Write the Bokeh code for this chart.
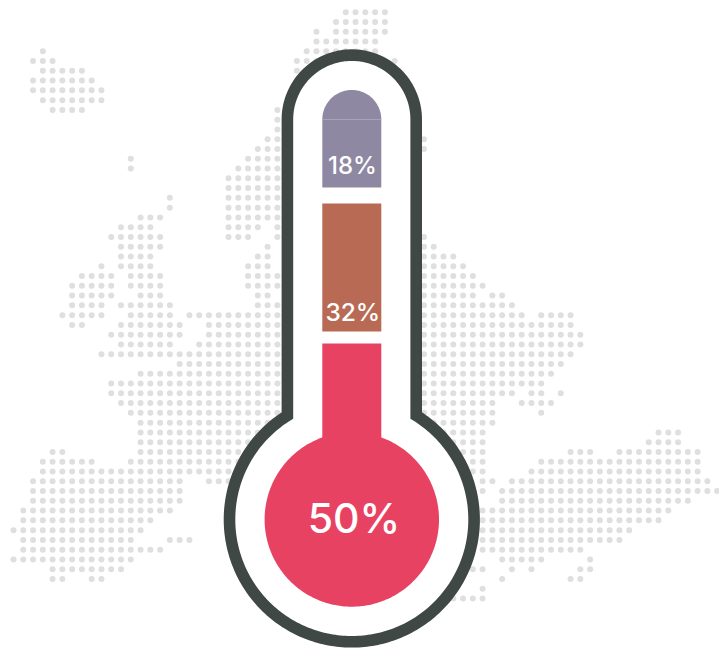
from bokeh.core.properties import value
from bokeh.embed import file_html
from bokeh.models import Range1d
from bokeh.plotting import figure
from bokeh.resources import INLINE
import numpy as np

# Poll shares from the bottom of the thermometer to the top
shares = [50, 32, 18]
share_colors = ["#e84262", "#b96a55", "#8f88a2"]

# Dot map: row number -> inclusive column spans on the dot lattice
map_rows = {
    0: [(34, 38)], 1: [(33, 38)], 2: [(31, 31), (33, 38)], 3: [(31, 37)], 4: [(3, 3), (30, 37)],
    5: [(2, 4), (29, 39)], 6: [(3, 7), (29, 30)], 7: [(2, 8)], 8: [(2, 9)], 9: [(3, 9)],
    10: [(4, 7), (27, 27)], 11: [(27, 27)], 12: [(27, 27)], 13: [(26, 27), (42, 42)],
    14: [(25, 27), (42, 42)], 15: [(12, 12), (24, 27)], 16: [(12, 12), (23, 27)],
    17: [(22, 27)], 18: [(22, 27)], 19: [(16, 16), (22, 27)], 20: [(16, 16), (22, 27)],
    21: [(13, 15), (22, 27)], 22: [(11, 14), (22, 25), (27, 27)],
    23: [(10, 15), (22, 24), (27, 27), (42, 42)], 24: [(11, 15), (26, 26), (42, 43)],
    25: [(11, 14), (25, 26), (42, 45)], 26: [(9, 9), (11, 14), (24, 26), (42, 46)],
    27: [(7, 10), (12, 15), (24, 27), (42, 47)], 28: [(6, 10), (12, 15), (24, 27), (42, 48)],
    29: [(6, 10), (13, 15), (25, 26), (42, 47), (49, 50)],
    30: [(6, 9), (11, 16), (25, 27), (42, 51)],
    31: [(5, 9), (12, 16), (18, 27), (42, 52), (54, 57)],
    32: [(6, 7), (11, 17), (20, 57)], 33: [(10, 17), (20, 58)], 34: [(11, 16), (19, 58)],
    35: [(9, 57)], 36: [(17, 56)], 37: [(13, 55)], 38: [(10, 54)],
    39: [(10, 51), (53, 54), (56, 56)], 40: [(11, 49), (52, 55)], 41: [(12, 49), (54, 54)],
    42: [(13, 49)], 43: [(13, 48), (66, 68)], 44: [(13, 48), (65, 68)],
    45: [(4, 5), (13, 48), (57, 59), (62, 70)], 46: [(3, 8), (12, 48), (54, 70)],
    47: [(3, 48), (53, 70)], 48: [(2, 17), (20, 22), (48, 49), (51, 71)],
    49: [(2, 17), (48, 48), (50, 72)], 50: [(2, 17), (50, 69)], 51: [(1, 16), (48, 67)],
    52: [(1, 14), (48, 66)], 53: [(0, 13), (48, 63)], 54: [(1, 12), (16, 18), (48, 62)],
    55: [(1, 15), (48, 58)], 56: [(0, 12), (50, 54), (59, 59)],
    57: [(4, 11), (47, 48), (51, 51), (53, 53), (58, 59)],
    58: [(4, 5), (8, 9), (50, 50), (57, 58)], 59: [(48, 48)], 60: [(45, 48)],
}

# Lattice placement of the dot map
GRID_X0, GRID_Y0, GRID_STEP = 13.0, 11.67, 9.773

# Thermometer layout
CX = 351.3
STEM_TOP_Y = 119.0
BULB_Y = 519.0
STEM_HALF = 64.4
BULB_R = 122.3
TUBE_HALF = 29.5
FILL_R = 87.2
# Top and bottom edge of each tube section, same order as the shares
section_tops = [343.0, 203.0, 119.0]
section_bottoms = [470.0, 331.0, 187.0]
label_x = [353.5, 352.3, 352.0]
label_y = [517.5, 311.0, 165.0]
label_sizes = ["41px", "24.5px", "24px"]
label_fonts = ["Inter Medium", "Inter Medium", "Inter Medium"]

INK = "#3f4845"
DOT = "#e0dfdf"

p = figure(width=719, height=648, output_backend="svg", toolbar_location=None,
           x_range=Range1d(0, 719), y_range=Range1d(648, 0),
           min_border=0, outline_line_color=None, background_fill_color="white",
           border_fill_color="white")
p.axis.visible = False
p.grid.visible = False

# Dot map behind the thermometer
xs, ys = [], []
for row, spans in map_rows.items():
    for start, end in spans:
        for col in range(start, end + 1):
            xs.append(GRID_X0 + GRID_STEP * col)
            ys.append(GRID_Y0 + GRID_STEP * row)
p.scatter(xs, ys, size=6.0, marker="circle", fill_color=DOT, line_color=None)

# Glass outline: rounded stem joined to the round bulb
join = np.arcsin(STEM_HALF / BULB_R)
top_arc = np.linspace(np.pi, 2 * np.pi, 90)
bulb_arc = np.linspace(join, 2 * np.pi - join, 240)
glass_x = np.concatenate([CX + STEM_HALF * np.cos(top_arc), CX + BULB_R * np.sin(bulb_arc)])
glass_y = np.concatenate([STEM_TOP_Y + STEM_HALF * np.sin(top_arc), BULB_Y - BULB_R * np.cos(bulb_arc)])
p.patch(glass_x, glass_y, fill_color="white", line_color=INK, line_width=11.6, line_join="miter")

# Tube sections, one per share
for top, bottom, color in zip(section_tops, section_bottoms, share_colors):
    p.quad(left=CX - TUBE_HALF, right=CX + TUBE_HALF, top=top, bottom=bottom,
           fill_color=color, line_color=None)

# Domed cap on the top section, with its faint seam
cap = np.linspace(np.pi, 2 * np.pi, 60)
p.patch(CX + TUBE_HALF * np.cos(cap), section_tops[2] + TUBE_HALF * np.sin(cap),
        fill_color=share_colors[2], line_color=None)
p.segment(CX - TUBE_HALF, section_tops[2], CX + TUBE_HALF, section_tops[2],
          line_color="#a7a2b6", line_width=1)

# Bulb fill
circle = np.linspace(0, 2 * np.pi, 240)
p.patch(CX + FILL_R * np.cos(circle), BULB_Y + FILL_R * np.sin(circle),
        fill_color=share_colors[0], line_color=None)

# Share labels
for i, share in enumerate(shares):
    p.text(x=[label_x[i]], y=[label_y[i]], text=[f"{share}%"], text_font_size=value(label_sizes[i]),
           text_color="white", text_align="center", text_baseline="middle",
           text_font=value(label_fonts[i]))

open("out.html", "w").write(file_html(p, INLINE))
